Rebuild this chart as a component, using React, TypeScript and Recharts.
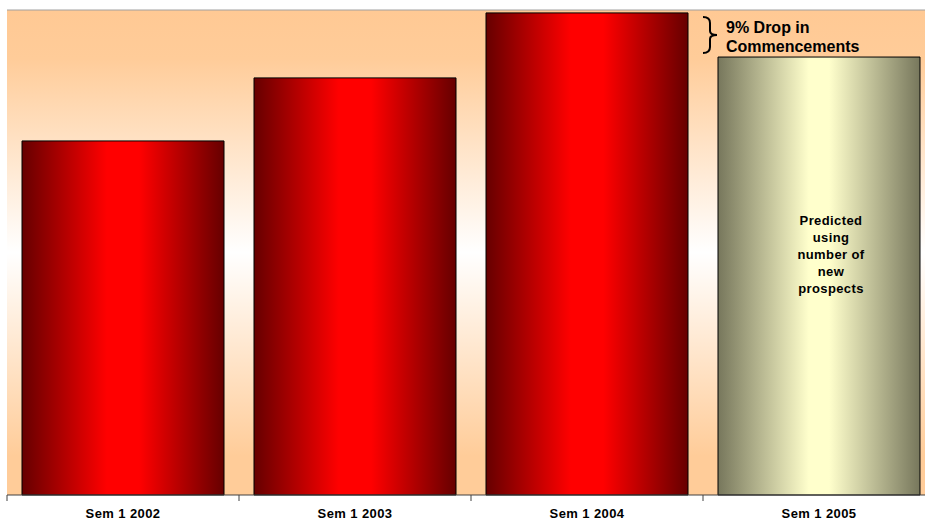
import { BarChart, Bar, XAxis, YAxis, CartesianGrid, Cell, LabelList, ReferenceLine } from "recharts";

const semesters = ["Sem 1 2002", "Sem 1 2003", "Sem 1 2004", "Sem 1 2005"];
const commencements = [73.0, 86.0, 99.4, 90.3];
const predicted = [false, false, false, true];
const dropNote = ["9% Drop in", "Commencements"];
const predictedNote = ["Predicted", "using", "number of", "new", "prospects"];

const data = semesters.map((name, i) => ({ name, value: commencements[i], predicted: predicted[i] }));

const W = 940;
const H = 520;
const M = { top: 10, right: 5, left: 7, bottom: 0 };
const STEP = (W - M.left - M.right) / semesters.length;
const FONT = "'Liberation Sans', Arial, sans-serif";

const SemTick = (props: any) => {
  const { x, y, payload } = props;
  return (
    <g>
      <line x1={x - STEP / 2} x2={x - STEP / 2} y1={y - 8} y2={y - 2} stroke="#404040" />
      <text x={x} y={y + 15} textAnchor="middle" fontFamily={FONT} fontWeight="bold" fontSize={13} letterSpacing={0.4} fill="#000">
        {payload.value}
      </text>
    </g>
  );
};

const Notes = (props: any) => {
  const { x, y, width, height, index } = props;
  if (index !== 3) return null;
  const base = y + height;
  const top3 = base - (height * commencements[2]) / commencements[3];
  const R = x - 1;
  const L = x - 15;
  const t = top3 + 4;
  const b = y - 4;
  const mid = (t + b) / 2;
  const c = R - 7;
  const brace = `M${L},${t} Q${c},${t} ${c},${t + 6} L${c},${mid - 4} Q${c},${mid} ${R},${mid} Q${c},${mid} ${c},${mid + 4} L${c},${b - 6} Q${c},${b} ${L},${b}`;
  return (
    <g>
      <path d={brace} fill="none" stroke="#000" strokeWidth={2} />
      {dropNote.map((s, i) => (
        <text key={s} x={x + 8} y={top3 + 20 + i * 19} fontFamily={FONT} fontWeight="bold" fontSize={16} fill="#000">
          {s}
        </text>
      ))}
      {predictedNote.map((s, i) => (
        <text key={s} x={x + width / 2 + 12} y={y + 168 + i * 17} textAnchor="middle" fontFamily={FONT} fontWeight="bold" fontSize={13} letterSpacing={0.4} fill="#000">
          {s}
        </text>
      ))}
    </g>
  );
};

export default function App() {
  return (
    <div style={{ position: "absolute", left: 0, top: 0, width: 925, height: 520, overflow: "hidden", background: "#fff" }}>
      <BarChart width={W} height={H} data={data} margin={M} barCategoryGap={15}>
        <defs>
          <linearGradient id="bgGrad" x1="0" y1="0" x2="0" y2="1">
            <stop offset="0" stopColor="#FFC994" />
            <stop offset="0.1" stopColor="#FFCC99" />
            <stop offset="0.5" stopColor="#FFFFFF" />
            <stop offset="0.92" stopColor="#FFCC99" />
            <stop offset="1" stopColor="#FFCC99" />
          </linearGradient>
          <linearGradient id="redGrad" x1="0" y1="0" x2="1" y2="0">
            <stop offset="0" stopColor="#660000" />
            <stop offset="0.42" stopColor="#FF0000" />
            <stop offset="0.58" stopColor="#FF0000" />
            <stop offset="1" stopColor="#660000" />
          </linearGradient>
          <linearGradient id="oliveGrad" x1="0" y1="0" x2="1" y2="0">
            <stop offset="0" stopColor="#77775C" />
            <stop offset="0.45" stopColor="#FFFFCC" />
            <stop offset="0.55" stopColor="#FFFFCC" />
            <stop offset="1" stopColor="#77775C" />
          </linearGradient>
        </defs>
        <CartesianGrid fill="url(#bgGrad)" horizontal={false} vertical={false} stroke="none" />
        <YAxis width={0} domain={[0, 100]} tick={false} tickLine={false} axisLine={{ stroke: "#a0a0a0" }} />
        <ReferenceLine y={100} stroke="#a0a0a0" />
        <XAxis dataKey="name" height={25} tickLine={false} axisLine={{ stroke: "#404040" }} tick={<SemTick />} interval={0} />
        <Bar dataKey="value" stroke="#000" strokeWidth={1} isAnimationActive={false}>
          {data.map((d) => (
            <Cell key={d.name} fill={d.predicted ? "url(#oliveGrad)" : "url(#redGrad)"} />
          ))}
          <LabelList dataKey="value" content={<Notes />} />
        </Bar>
      </BarChart>
    </div>
  );
}
